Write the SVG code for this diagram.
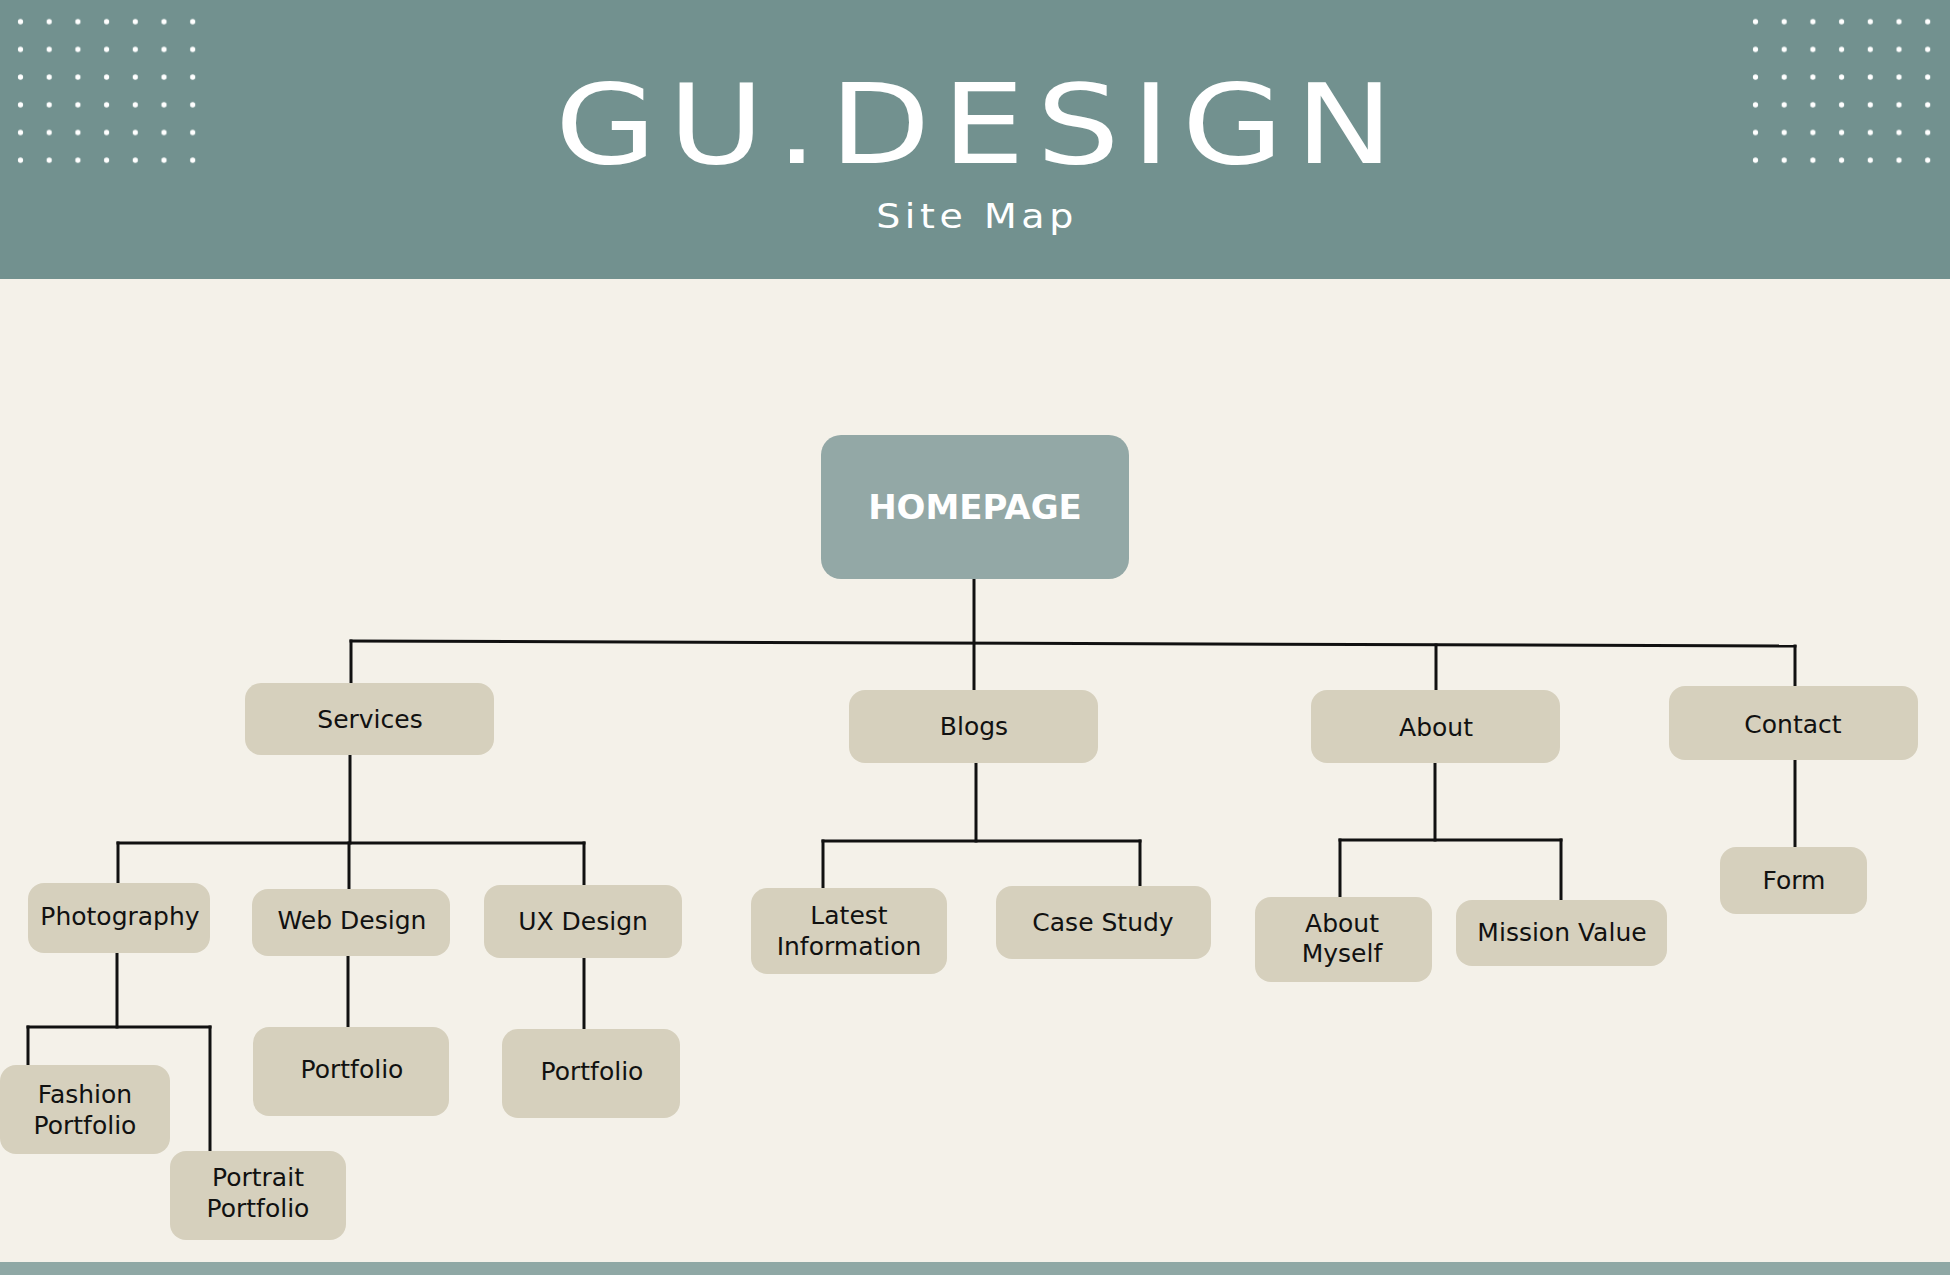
<svg xmlns="http://www.w3.org/2000/svg" xmlns:xlink="http://www.w3.org/1999/xlink" width="1950" height="1275" viewBox="0 0 1950 1275">
<style>
.node rect{fill:#D6D0BD;}
.node text{font-family:"DejaVu Sans","Liberation Sans",sans-serif;font-size:25px;fill:#111;text-anchor:middle;}
.conn path{fill:none;stroke:#111;stroke-width:3;stroke-linecap:square;}
</style>
<defs>
<pattern id="dots" x="6.15" y="7.85" width="28.7" height="27.7" patternUnits="userSpaceOnUse">
<circle cx="14.35" cy="13.85" r="2.6" fill="#FFFFFF"/>
</pattern>
</defs>
<rect x="0" y="0" width="1950" height="1275" fill="#F4F1E9"/>
<rect x="0" y="0" width="1950" height="279" fill="#72918F"/>
<rect x="0" y="1262" width="1950" height="13" fill="#8FA8A5"/>
<rect x="6.15" y="7.85" width="200.9" height="166.2" fill="url(#dots)"/>
<g transform="translate(1735,0)"><rect x="6.15" y="7.85" width="200.9" height="166.2" fill="url(#dots)"/></g>
<g transform="translate(980,0) scale(1.18,1)"><text x="0" y="163" font-family="DejaVu Sans, sans-serif" font-size="111" fill="#FFFFFF" text-anchor="middle" letter-spacing="10">GU.DESIGN</text></g>
<g transform="translate(977,0) scale(1.15,1)"><text x="0" y="228" font-family="DejaVu Sans, sans-serif" font-size="33" fill="#FFFFFF" text-anchor="middle" letter-spacing="4">Site Map</text></g>

<g class="conn" id="connectors">
<path d="M974 578 V690"/>
<path d="M351 641 L1795 646"/>
<path d="M351 641 V683"/>
<path d="M1436 645 V690"/>
<path d="M1795 646 V686"/>
<path d="M350 755 V843"/>
<path d="M118 843 H584"/>
<path d="M118 843 V884"/>
<path d="M349 843 V889"/>
<path d="M584 843 V885"/>
<path d="M117 953 V1027"/>
<path d="M28 1027 H210"/>
<path d="M28 1027 V1065"/>
<path d="M210 1027 V1151"/>
<path d="M348 956 V1027"/>
<path d="M584 958 V1029"/>
<path d="M976 763 V841"/>
<path d="M823 841 H1140"/>
<path d="M823 841 V888"/>
<path d="M1140 841 V886"/>
<path d="M1435 763 V840"/>
<path d="M1340 840 H1561"/>
<path d="M1340 840 V897"/>
<path d="M1561 840 V900"/>
<path d="M1795 760 V847"/>
</g>

<g id="homepage">
<rect x="821" y="435" width="308" height="144" rx="20" fill="#93A8A6"/>
<text x="975" y="519" font-family="DejaVu Sans, sans-serif" font-size="34" font-weight="bold" fill="#FFFFFF" text-anchor="middle">HOMEPAGE</text>
</g>
<g class="node" id="services"><rect x="245" y="683" width="249" height="72" rx="16"/><text x="370" y="728">Services</text></g>
<g class="node" id="blogs"><rect x="849" y="690" width="249" height="73" rx="16"/><text x="974" y="735">Blogs</text></g>
<g class="node" id="about"><rect x="1311" y="690" width="249" height="73" rx="16"/><text x="1436" y="736">About</text></g>
<g class="node" id="contact"><rect x="1669" y="686" width="249" height="74" rx="16"/><text x="1793" y="733">Contact</text></g>
<g class="node" id="photography"><rect x="28" y="883" width="182" height="70" rx="16"/><text x="120" y="925">Photography</text></g>
<g class="node" id="web-design"><rect x="252" y="889" width="198" height="67" rx="16"/><text x="352" y="929">Web Design</text></g>
<g class="node" id="ux-design"><rect x="484" y="885" width="198" height="73" rx="16"/><text x="583" y="930">UX Design</text></g>
<g class="node" id="fashion-portfolio"><rect x="0" y="1065" width="170" height="89" rx="16"/><text x="85" y="1103">Fashion</text><text x="85" y="1134">Portfolio</text></g>
<g class="node" id="portrait-portfolio"><rect x="170" y="1151" width="176" height="89" rx="16"/><text x="258" y="1186">Portrait</text><text x="258" y="1217">Portfolio</text></g>
<g class="node" id="web-portfolio"><rect x="253" y="1027" width="196" height="89" rx="16"/><text x="352" y="1078">Portfolio</text></g>
<g class="node" id="ux-portfolio"><rect x="502" y="1029" width="178" height="89" rx="16"/><text x="592" y="1080">Portfolio</text></g>
<g class="node" id="latest-information"><rect x="751" y="888" width="196" height="86" rx="16"/><text x="849" y="924">Latest</text><text x="849" y="955">Information</text></g>
<g class="node" id="case-study"><rect x="996" y="886" width="215" height="73" rx="16"/><text x="1103" y="931">Case Study</text></g>
<g class="node" id="about-myself"><rect x="1255" y="897" width="177" height="85" rx="16"/><text x="1342" y="932">About</text><text x="1342" y="962">Myself</text></g>
<g class="node" id="mission-value"><rect x="1456" y="900" width="211" height="66" rx="16"/><text x="1562" y="941">Mission Value</text></g>
<g class="node" id="form"><rect x="1720" y="847" width="147" height="67" rx="16"/><text x="1794" y="889">Form</text></g>
</svg>
